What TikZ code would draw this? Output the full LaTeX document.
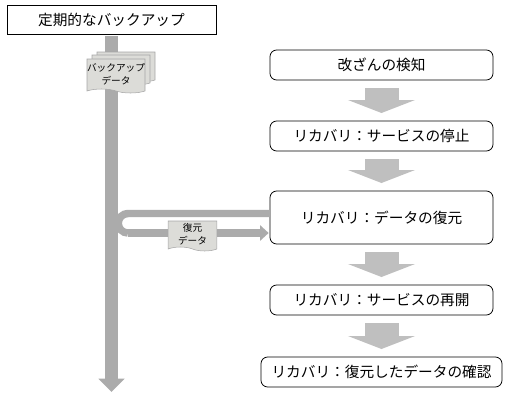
\documentclass[tikz,border=0pt]{standalone}
\usepackage{fontspec}
\setmainfont{Noto Sans CJK JP}
\usetikzlibrary{arrows.meta,positioning,shapes.symbols}
\definecolor{flowgray}{HTML}{ABABAB}
\definecolor{blockgray}{HTML}{BFBFBF}
\definecolor{sheetgray}{HTML}{DCDCD8}

\begin{document}
\begin{tikzpicture}[
    x=0.75pt, y=-0.75pt,
    font=\fontsize{11pt}{13pt}\selectfont,
    stepbox/.style={draw, semithick, rounded corners=5pt, align=center, minimum width=167.25pt, minimum height=22.5pt, inner sep=0pt, outer sep=0pt},
    blockline/.style={-{Triangle[length=9.75pt, width=50pt]}, line width=25.5pt, draw=blockgray, shorten <=6pt, shorten >=6pt},
    mainline/.style={-{Triangle[length=10pt, width=19pt]}, line width=9.75pt, draw=flowgray},
    branchline/.style={line width=5.6pt, draw=flowgray},
    sheet/.style={tape, tape bend top=none, tape bend bottom=out and in, tape bend height=3pt, draw=black!35, fill=sheetgray, inner sep=0pt, align=center, font=\fontsize{7.25pt}{10pt}\selectfont}
]
    \useasboundingbox (0,0) rectangle (511,400);

    % Node placement
    \node[draw, semithick, minimum width=156.75pt, minimum height=21.75pt, inner sep=0pt, outer sep=0pt] (backup) at (111.5,19.5) {定期的なバックアップ};
    \node[stepbox] (detect) at (381.5,65) {改ざんの検知};
    \node[stepbox, below=30.75pt of detect] (stopsvc) {リカバリ：サービスの停止};
    \node[stepbox, below=30pt of stopsvc, minimum height=39.75pt] (restore) {リカバリ：データの復元};
    \node[stepbox, below=30.75pt of restore] (resume) {リカバリ：サービスの再開};
    \node[stepbox, below=31.5pt of resume, minimum width=180.75pt] (verify) {リカバリ：復元したデータの確認};
    \coordinate (maintip) at (111.5,392);
    \coordinate (branchtop) at (128,213.5);
    \coordinate (branchlow) at (128,233);

    % Connections
    \draw[mainline] ([yshift=-1.5pt]backup.south) -- (maintip);
    \draw[branchline] (restore.west |- branchtop) -- (branchtop) arc[start angle=270, end angle=90, radius=9.75] -- (branchlow);
    \draw[branchline, -{Triangle[length=6.5pt, width=11.5pt]}] (branchlow) -- ([xshift=-1pt]restore.west |- branchlow);
    \draw[blockline] (detect) -- (stopsvc);
    \draw[blockline] (stopsvc) -- (restore);
    \draw[blockline] (restore) -- (resume);
    \draw[blockline] (resume) -- (verify);

    % Sheets on top of the flow
    \node[sheet, minimum width=43.5pt, minimum height=22.5pt] (sheetback) at (126,65) {};
    \node[sheet, minimum width=43.5pt, minimum height=22.5pt] (sheetmid) at (121,68) {};
    \node[sheet, minimum width=43.5pt, minimum height=25.5pt] (sheetfront) at (116,74) {バックアップ\\データ};
    \node[sheet, minimum width=36.5pt, minimum height=22.5pt] (sheetrestore) at (192.5,234) {復元\\データ};
\end{tikzpicture}
\end{document}
